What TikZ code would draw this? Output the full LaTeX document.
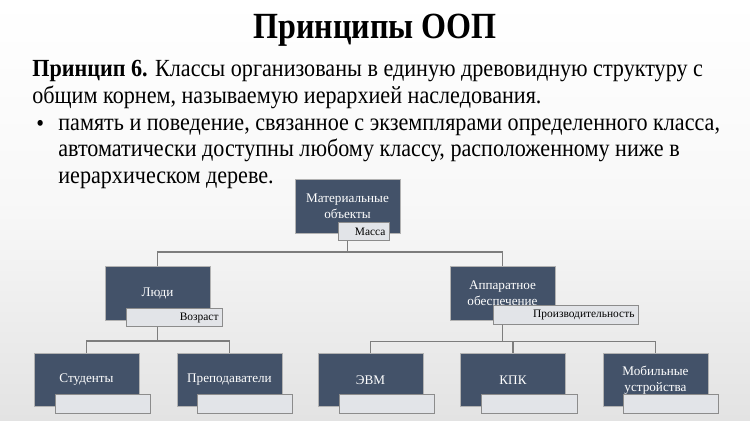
\documentclass[tikz,border=0pt]{standalone}
\usepackage{fontspec}
\setmainfont{Liberation Serif}
\newfontfamily\slidefont[FakeStretch=0.9]{Liberation Serif}
\newfontfamily\titlefont[FakeStretch=0.87]{Liberation Serif}
\usetikzlibrary{positioning, calc, backgrounds}
\definecolor{boxblue}{RGB}{67,82,105}
\definecolor{tagfill}{RGB}{226,228,232}
\definecolor{linkgray}{RGB}{125,125,125}

\begin{document}
\begin{tikzpicture}[x=0.02cm, y=-0.02cm,
    cls/.style={rectangle, draw=white!70!black, fill=boxblue, text=white, minimum width=2.1cm, minimum height=1.07cm, align=center, inner sep=1pt, font=\fontsize{7.5}{9}\selectfont},
    tag/.style={rectangle, draw=black!45, fill=tagfill, minimum height=0.37cm, align=right, inner xsep=2pt, inner ysep=0pt, font=\fontsize{6.5}{7}\selectfont},
    link/.style={draw=linkgray, line width=0.8pt},
    slide/.style={anchor=base west, align=left, inner sep=0pt, font=\slidefont\fontsize{14}{15}\selectfont},
]
    \fill[top color=white, bottom color=black!11, middle color=black!3] (0,0) rectangle (750,420);

    \node[font=\titlefont\fontsize{21}{24}\selectfont\bfseries] (title) at (375,30) {Принципы ООП};
    % base anchor of a multi-line node = baseline of its last line
    \node[slide] (p6) at (32,103) {\textbf{Принцип 6.} Классы организованы в единую древовидную структуру с\\общим корнем, называемую иерархией наследования.};
    \node[slide] (dot) at (36,131) {•};
    \node[slide] (txt) at (58,183) {память и поведение, связанное с экземплярами определенного класса,\\автоматически доступны любому классу, расположенному ниже в\\иерархическом дереве.};

    % tree
    \node[cls] (root) at (347.5,206.5) {Материальные\\объекты};
    \node[cls] (ludi) at (157.5,293.5) {Люди};
    \node[cls] (hw) at (502.5,293.5) {Аппаратное\\обеспечение};
    \node[cls] (stud) at (86.5,380) {Студенты};
    \node[cls] (prep) at (229.5,380) {Преподаватели};
    \node[cls] (evm) at (370.5,380) {ЭВМ};
    \node[cls] (kpk) at (513,380) {КПК};
    \node[cls] (mob) at (655.5,380) {Мобильные\\устройства};

    \node[tag, text width=0.88cm] (massa) at (363.5,231.5) {Масса};
    \node[tag, text width=1.78cm] (vozr) at (174,317.5) {Возраст};
    \node[tag, text width=2.76cm] (proizv) at (565.5,315) {Производительность};
    \node[tag, text width=1.76cm] (t1) at (102.5,404) {};
    \node[tag, text width=1.76cm] (t2) at (244.5,404) {};
    \node[tag, text width=1.76cm] (t3) at (386.5,404) {};
    \node[tag, text width=1.78cm] (t4) at (529,404) {};
    \node[tag, text width=1.76cm] (t5) at (671,404) {};

    \draw[link] (root.south |- massa.south) -- ++(0,11) -| (ludi.north);
    \draw[link] (root.south |- massa.south) -- ++(0,11) -| (hw.north);
    \draw[link] (ludi.south |- vozr.south) -- ++(0,14) -| (stud.north);
    \draw[link] (ludi.south |- vozr.south) -- ++(0,14) -| (prep.north);
    \draw[link] (hw.south |- proizv.south) -- ++(0,17) -| (evm.north);
    \draw[link] (hw.south |- proizv.south) -- ++(0,17) -| (kpk.north);
    \draw[link] (hw.south |- proizv.south) -- ++(0,17) -| (mob.north);
\end{tikzpicture}
\end{document}
